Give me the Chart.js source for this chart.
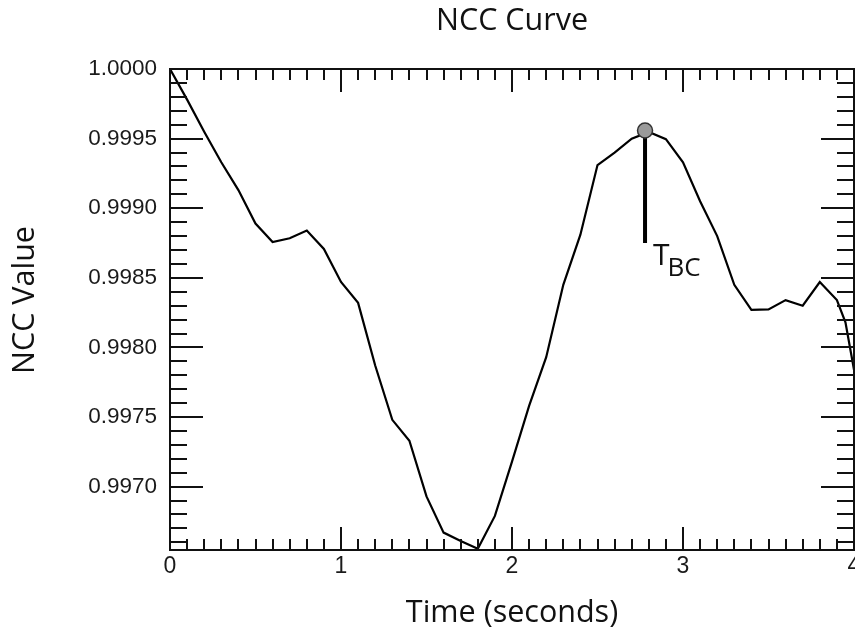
<!DOCTYPE html>
<html>
<head>
<meta charset="utf-8">
<script src="https://cdn.jsdelivr.net/npm/chart.js@4.4.0/dist/chart.umd.min.js"></script>
<style>
  html, body { margin: 0; padding: 0; background: #fff; }
</style>
</head>
<body>
<canvas id="myChart" width="855" height="635"></canvas>
<script>
// values
const timeSec = [0.0, 0.1, 0.2, 0.3, 0.4, 0.5, 0.6, 0.7, 0.8, 0.9,
                 1.0, 1.1, 1.2, 1.3, 1.4, 1.5, 1.6, 1.7, 1.8, 1.9,
                 2.0, 2.1, 2.2, 2.3, 2.4, 2.5, 2.6, 2.7, 2.8, 2.9,
                 3.0, 3.1, 3.2, 3.3, 3.4, 3.5, 3.6, 3.7, 3.8, 3.9, 3.95, 4.0];
const nccValues = [1.00000, 0.99978, 0.99955, 0.99933, 0.99913, 0.99889, 0.998757, 0.998784, 0.99884, 0.998707,
                   0.99847, 0.99832, 0.99787, 0.99748, 0.99733, 0.99693, 0.99667, 0.99661, 0.996554, 0.99679,
                   0.99718, 0.99758, 0.99793, 0.99845, 0.99881, 0.99931, 0.99940, 0.99950, 0.999548, 0.999496,
                   0.99933, 0.99905, 0.99880, 0.99845, 0.99827, 0.998273, 0.99834, 0.99830, 0.99847, 0.99834, 0.99818, 0.99784];

const peakTime = 2.778;
const peakValue = 0.999558;
const stemBottom = 0.99875;

const xTicks = [0, 1, 2, 3, 4];
const yTicks = [0.9970, 0.9975, 0.9980, 0.9985, 0.9990, 0.9995, 1.0000];
const yMin = 0.996545;
const yMax = 1.0;

const labelFont = "'Liberation Sans', Arial, sans-serif";
const titleFont = "'Open Sans', sans-serif";

// frame + inside ticks on all four sides, y title and the T_BC label
const framePlugin = {
  id: 'frame',
  afterDatasetsDraw(chart) {
    const ctx = chart.ctx;
    const a = chart.chartArea;
    const xs = chart.scales.x, ys = chart.scales.y;
    ctx.save();
    ctx.strokeStyle = '#111';
    ctx.lineWidth = 2;
    ctx.beginPath();
    for (let i = 1; i < 40; i++) {
      const px = Math.round(xs.getPixelForValue(i / 10));
      const len = i % 10 === 0 ? 23 : 11;
      ctx.moveTo(px, a.bottom); ctx.lineTo(px, a.bottom - len);
      ctx.moveTo(px, a.top); ctx.lineTo(px, a.top + len);
    }
    for (let k = Math.ceil(yMin * 10000); k < 10000; k++) {
      const py = Math.round(ys.getPixelForValue(k / 10000));
      const len = k % 5 === 0 ? 33 : 17;
      ctx.moveTo(a.left, py); ctx.lineTo(a.left + len, py);
      ctx.moveTo(a.right, py); ctx.lineTo(a.right - len, py);
    }
    ctx.stroke();
    ctx.strokeRect(a.left, a.top, a.right - a.left, a.bottom - a.top);

    ctx.fillStyle = '#111';

    // y axis title
    ctx.save();
    ctx.translate(25, 300);
    ctx.rotate(-Math.PI / 2);
    ctx.textAlign = 'center';
    ctx.textBaseline = 'middle';
    ctx.font = '30.5px ' + titleFont;
    ctx.fillText('NCC Value', 0, 0);
    ctx.restore();

    // T_BC label next to the stem
    const sx = xs.getPixelForValue(peakTime);
    const sy = ys.getPixelForValue(stemBottom);
    ctx.textBaseline = 'alphabetic';
    ctx.textAlign = 'left';
    ctx.font = '30px ' + titleFont;
    ctx.fillText('T', sx + 8, sy + 22);
    const tw = ctx.measureText('T').width;
    ctx.font = '26px ' + titleFont;
    ctx.fillText('BC', sx + 8 + tw - 2, sy + 33);
    ctx.restore();
  }
};

new Chart(document.getElementById('myChart').getContext('2d'), {
  type: 'line',
  data: {
    datasets: [
      {
        label: 'T_BC marker',
        type: 'scatter',
        data: [{ x: peakTime, y: peakValue }],
        pointRadius: 7.5,
        pointBackgroundColor: '#9a9a9a',
        pointBorderColor: '#333',
        pointBorderWidth: 1.5,
        order: 0
      },
      {
        label: 'stem',
        data: [{ x: peakTime, y: peakValue }, { x: peakTime, y: stemBottom }],
        borderColor: '#000',
        borderWidth: 4,
        pointRadius: 0,
        order: 1
      },
      {
        label: 'NCC',
        data: timeSec.map((t, i) => ({ x: t, y: nccValues[i] })),
        borderColor: '#000',
        borderWidth: 2.2,
        pointRadius: 0,
        tension: 0,
        order: 2
      }
    ]
  },
  options: {
    responsive: false,
    devicePixelRatio: 1,
    animation: false,
    layout: { autoPadding: false, padding: { left: 0, right: 1, top: 0, bottom: 0 } },
    plugins: {
      legend: { display: false },
      tooltip: { enabled: false },
      title: {
        display: true,
        text: 'NCC Curve',
        fullSize: false,
        color: '#111',
        font: { family: titleFont, size: 30.5, weight: 'normal', lineHeight: 1.2 },
        padding: { top: 3, bottom: 29.4 }
      }
    },
    scales: {
      x: {
        type: 'linear',
        min: 0,
        max: 4,
        afterBuildTicks: s => { s.ticks = xTicks.map(v => ({ value: v })); },
        afterFit: s => { s.height = 85; s.paddingLeft = 0; s.paddingRight = 0; },
        grid: { display: false, drawTicks: false },
        border: { display: false },
        ticks: {
          color: '#1a1a1a',
          font: { family: labelFont, size: 23 },
          padding: 3,
          maxRotation: 0,
          callback: v => String(v)
        },
        title: {
          display: true,
          text: 'Time (seconds)',
          color: '#111',
          font: { family: titleFont, size: 30.5, lineHeight: 1.2 },
          padding: { top: 0, bottom: 3.4 }
        }
      },
      y: {
        type: 'linear',
        min: yMin,
        max: yMax,
        afterBuildTicks: s => { s.ticks = yTicks.map(v => ({ value: v })); },
        afterFit: s => { s.width = 170; },
        grid: { display: false, drawTicks: false },
        border: { display: false },
        ticks: {
          color: '#1a1a1a',
          font: { family: labelFont, size: 22.5 },
          padding: 13,
          callback: v => Number(v).toFixed(4)
        },
        title: { display: false }
      }
    }
  },
  plugins: [framePlugin]
});
</script>
</body>
</html>
